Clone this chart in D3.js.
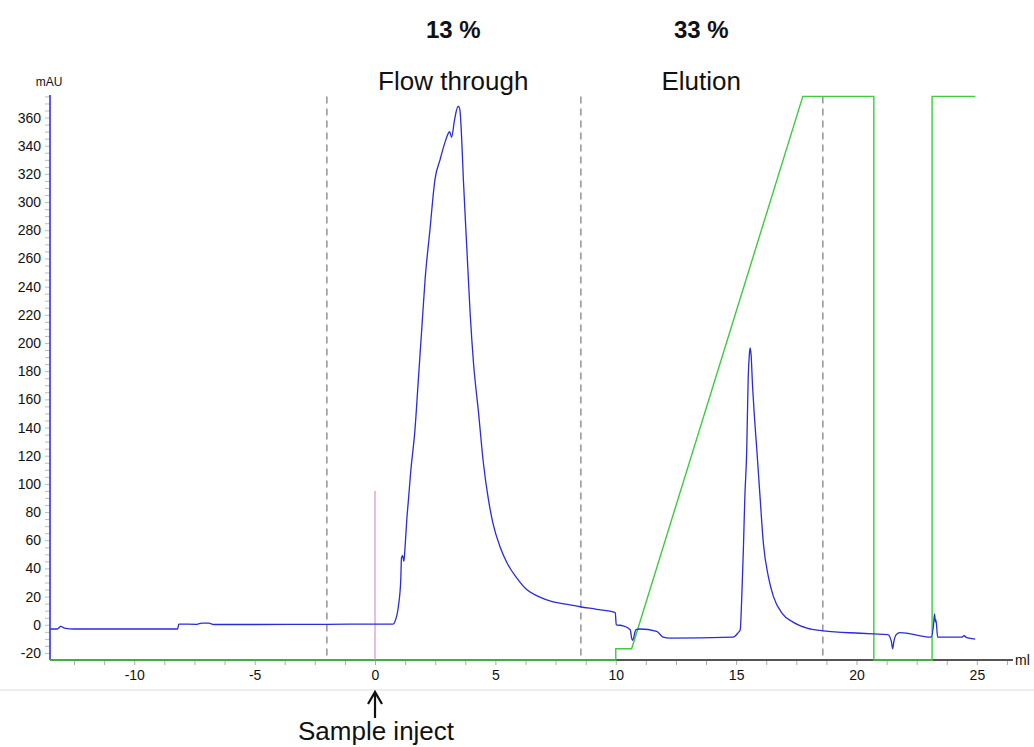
<!DOCTYPE html>
<html>
<head>
<meta charset="utf-8">
<script src="https://cdn.jsdelivr.net/npm/d3@7"></script>
<style>
  html, body { margin: 0; padding: 0; background: #fff; }
  svg { display: block; font-family: "Liberation Sans", Arial, sans-serif; }
</style>
</head>
<body>
<svg id="chart" width="1034" height="747"></svg>
<script>
// UV absorbance trace (mAU) against elution volume (ml)
const uvVolume = [
  -13.5, -13.2, -13.05, -12.9, -12.5, -10, -8.2, -8.15, -7.4, -7.2, -6.9, -6.7, -5, -2, 0, 0.5,
  0.75, 0.83, 0.97, 1.07, 1.1, 1.15, 1.2, 1.25, 1.32, 1.39, 1.48, 1.66, 1.8, 1.94, 2.08, 2.28,
  2.49, 2.7, 2.9, 3.05, 3.1, 3.18, 3.3, 3.45, 3.52, 3.6, 3.67, 3.81, 3.95, 4.09, 4.3, 4.5,
  4.71, 4.9, 5.2, 5.48, 5.9, 6.3, 6.8, 7.4, 8.0, 8.52, 9.2, 9.98, 10.02, 10.3, 10.6, 10.66,
  10.7, 10.84, 11.0, 11.7, 11.97, 12.25, 14.87, 15.08, 15.17, 15.23, 15.3, 15.36, 15.44, 15.5,
  15.55, 15.58, 15.62, 15.68, 15.75, 15.86, 16.0, 16.13, 16.34, 16.55, 16.9, 17.38, 17.94,
  18.63, 20.16, 20.7, 21.3, 21.45, 21.5, 21.55, 21.65, 21.8, 23.1, 23.2, 23.24, 23.28, 23.3,
  23.37, 24.37, 24.47, 24.58, 24.93
];
const uvAbs = [
  -3, -3, -1.2, -2.4, -3, -3, -3, 0.5, 0.3, 1.2, 1.2, 0.2, 0.2, 0.3, 0.5, 0.4,
  0.5, 2.4, 13, 32, 47.6, 49, 45, 55.6, 74.6, 89, 108, 138.5, 174, 209.5, 245, 280,
  316, 330, 342, 349, 350, 346, 358, 368, 366, 345, 316, 268.7, 221.5, 186, 150.6, 115,
  89, 72, 55, 44, 33, 25, 20, 16.3, 14.5, 12.8, 11, 8.7, 0, -0.7, -3.5, -9.5,
  -11, -3.5, -3, -4.7, -8.8, -9.5, -8.8, -5.7, -3.5, 17.7, 53, 90, 124, 175,
  192, 196.5, 192, 170, 150, 124, 89, 58, 34, 20, 8.3, 1.7, -2.4,
  -4.3, -6, -6.5, -7, -12, -17, -12, -7, -5.5, -8.8, 0, 7.8, 2, 3.5,
  -8.8, -8.8, -7.8, -9.2, -10.2
];

// Concentration of eluent B (%) against volume (ml)
const gradVolume = [-13.5, 10, 10, 10.66, 17.77, 20.72, 20.72, 23.14, 23.14, 24.93];
const gradConc   = [0, 0, 2, 2, 100, 100, 0, 0, 100, 100];

// Fraction boundaries and injection mark
const fractionMarks = [-2, 8.55, 18.6];
const injectVolume = 0;
const injectSignal = 95;

// Axis ticks
const xTickLabels = [-10, -5, 0, 5, 10, 15, 20, 25];
const yTickLabels = d3.range(-20, 361, 20);

// Annotations
const topNotes = [
  { volume: 3.25, pct: "13 %", name: "Flow through" },
  { volume: 13.55, pct: "33 %", name: "Elution" }
];

const svg = d3.select("#chart");
const plotLeft = 50, plotRight = 1013, plotTop = 95, plotBottom = 660;

const x = d3.scaleLinear().domain([-13.5, 26.5]).range([plotLeft, plotRight]);
const y = d3.scaleLinear().domain([-25, 376]).range([plotBottom, plotTop]);
const yConc = d3.scaleLinear().domain([0, 100]).range([plotBottom, y(375)]);

// faint frame line under the axis labels
svg.append("line")
  .attr("x1", 0).attr("x2", 1034).attr("y1", 690).attr("y2", 690)
  .attr("stroke", "#e4e8ee").attr("stroke-width", 1.5);

// x axis
const xAxis = d3.axisBottom(x)
  .tickValues(d3.range(-12.5, 26.3, 1.25))
  .tickSize(5)
  .tickFormat(d => xTickLabels.includes(d) ? String(d) : "");
const gx = svg.append("g").attr("transform", `translate(0,${plotBottom})`).call(xAxis);
gx.select(".domain").remove();
gx.selectAll(".tick line").attr("stroke", "#aaa");
gx.selectAll(".tick text").attr("font-size", 14).attr("fill", "#111").attr("dy", "0.85em");
svg.append("line")
  .attr("x1", plotLeft).attr("x2", plotRight).attr("y1", plotBottom).attr("y2", plotBottom)
  .attr("stroke", "#555").attr("stroke-width", 2);
svg.append("text").attr("x", plotRight + 2).attr("y", plotBottom + 5)
  .attr("font-size", 14).attr("fill", "#111").text("ml");

// y axis
const yAxis = d3.axisLeft(y)
  .tickValues(d3.range(-20, 376, 5))
  .tickSize(5)
  .tickFormat(d => yTickLabels.includes(d) ? String(d) : "");
const gy = svg.append("g").attr("transform", `translate(${plotLeft},0)`).call(yAxis);
gy.select(".domain").remove();
gy.selectAll(".tick line").attr("stroke", "#bbb");
gy.selectAll(".tick text").attr("font-size", 14).attr("fill", "#111").attr("x", -9);
svg.append("line")
  .attr("x1", plotLeft).attr("x2", plotLeft).attr("y1", plotTop).attr("y2", plotBottom)
  .attr("stroke", "#3030f0").attr("stroke-width", 1.6);
svg.append("text").attr("x", plotLeft - 1).attr("y", 86).attr("text-anchor", "middle")
  .attr("font-size", 12).attr("fill", "#111").text("mAU");

// fraction boundaries
svg.selectAll("line.frac").data(fractionMarks).enter().append("line")
  .attr("class", "frac")
  .attr("x1", d => x(d)).attr("x2", d => x(d))
  .attr("y1", y(375)).attr("y2", plotBottom)
  .attr("stroke", "#9a9a9a").attr("stroke-width", 1.6)
  .attr("stroke-dasharray", "7,5");

// injection mark
svg.append("line")
  .attr("x1", x(injectVolume)).attr("x2", x(injectVolume))
  .attr("y1", y(injectSignal)).attr("y2", plotBottom)
  .attr("stroke", "#e2a6de").attr("stroke-width", 1.5);

// gradient trace
const gradData = gradVolume.map((v, i) => [v, gradConc[i]]);
svg.append("path").datum(gradData)
  .attr("fill", "none").attr("stroke", "#3ccc3c").attr("stroke-width", 1.4)
  .attr("d", d3.line().x(d => x(d[0])).y(d => yConc(d[1])));

// UV trace
const uvData = uvVolume.map((v, i) => [v, uvAbs[i]]);
svg.append("path").datum(uvData)
  .attr("fill", "none").attr("stroke", "#2a2ae0").attr("stroke-width", 1.3)
  .attr("stroke-linejoin", "round")
  .attr("d", d3.line().curve(d3.curveMonotoneX).x(d => x(d[0])).y(d => y(d[1])));

// fraction annotations above the plot
topNotes.forEach(n => {
  svg.append("text").attr("x", x(n.volume)).attr("y", 38).attr("text-anchor", "middle")
    .attr("font-size", 24).attr("font-weight", "bold").attr("fill", "#111").text(n.pct);
  svg.append("text").attr("x", x(n.volume)).attr("y", 90).attr("text-anchor", "middle")
    .attr("font-size", 26).attr("fill", "#111").text(n.name);
});

// sample injection arrow and label
const ax = x(injectVolume);
svg.append("path")
  .attr("d", `M${ax},718 L${ax},692 M${ax - 7},704 L${ax},692 L${ax + 7},704`)
  .attr("fill", "none").attr("stroke", "#111").attr("stroke-width", 2.2);
svg.append("text").attr("x", ax + 1).attr("y", 740).attr("text-anchor", "middle")
  .attr("font-size", 26).attr("fill", "#111").text("Sample inject");
</script>
</body>
</html>
